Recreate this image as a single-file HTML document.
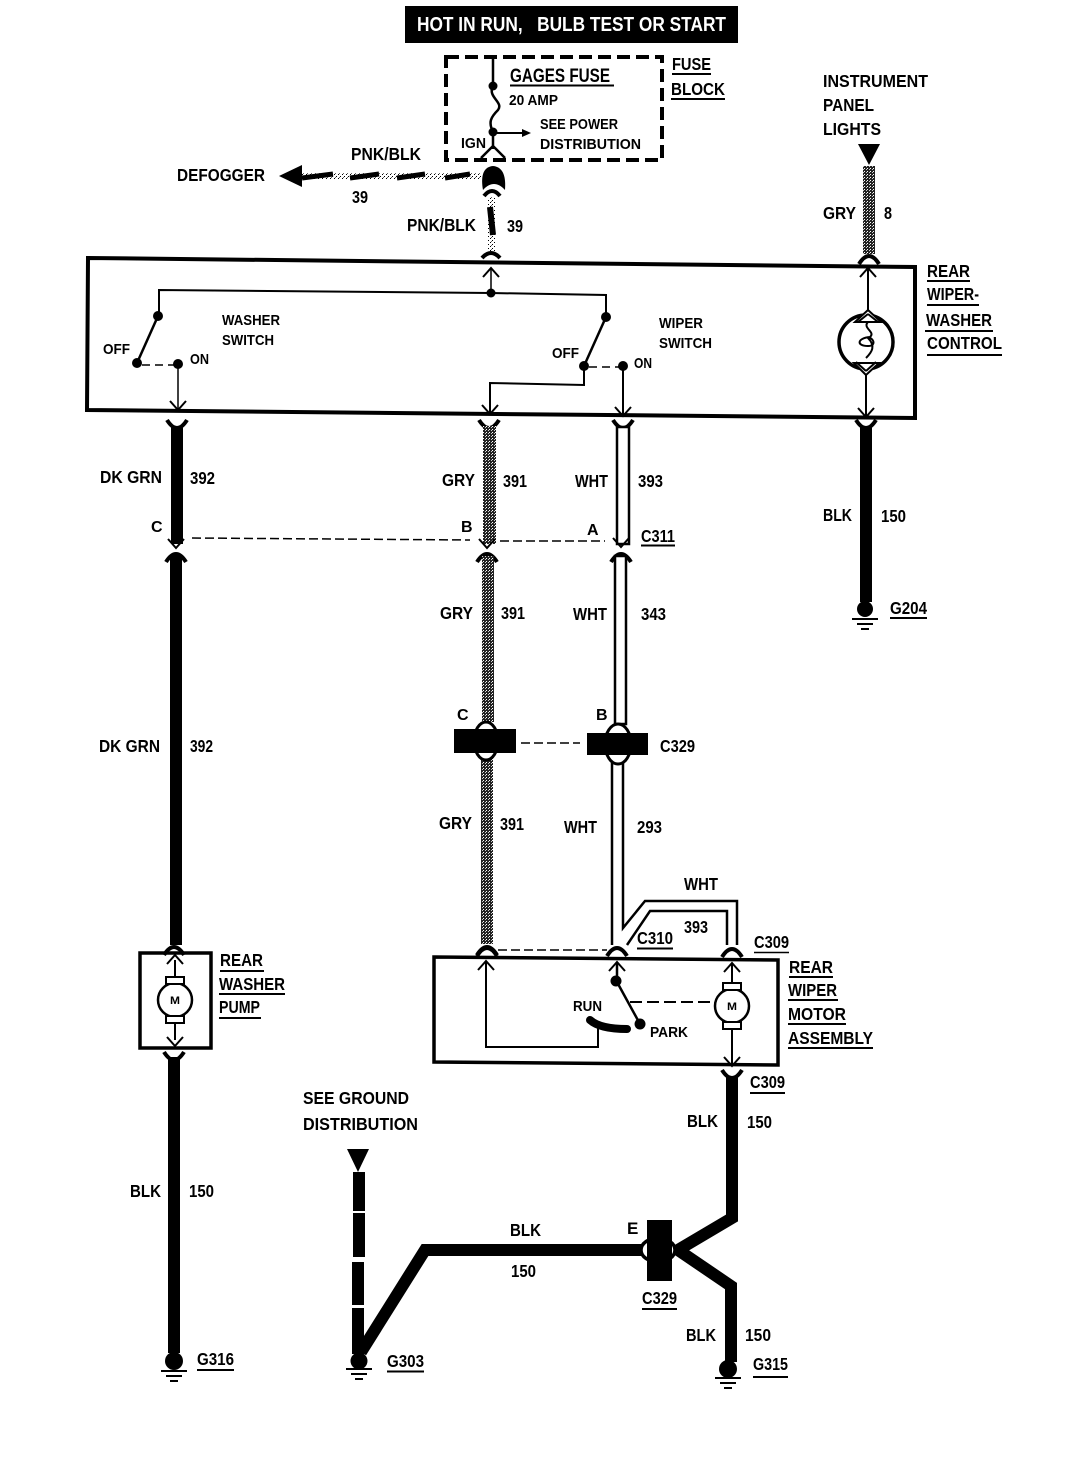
<!DOCTYPE html>
<html><head><meta charset="utf-8"><title>Rear wiper washer wiring diagram</title>
<style>
html,body{margin:0;padding:0;background:#fff;width:1068px;height:1472px;overflow:hidden}
svg{display:block}
text{font-family:"Liberation Sans",sans-serif;font-weight:700;font-size:17.5px;fill:#000}
.s{font-size:15px}
.m{font-size:11px}
</style></head><body>
<svg xmlns="http://www.w3.org/2000/svg" width="1068" height="1472" viewBox="0 0 1068 1472">
<defs>
<pattern id="g" width="3" height="3" patternUnits="userSpaceOnUse"><rect width="3" height="3" fill="#222"/><rect x="0" y="0" width="1" height="1" fill="#fff"/><rect x="2" y="1" width="1" height="1" fill="#ccc"/></pattern>
<pattern id="p" width="4" height="4" patternUnits="userSpaceOnUse"><rect width="4" height="4" fill="#fff"/><rect width="1" height="1" fill="#000"/><rect x="2" y="2" width="1" height="1" fill="#000"/><rect x="3" y="1" width="1" height="1" fill="#666"/></pattern>
<path id="cu" d="M-10,-6 Q-5,2 0,2 Q5,2 10,-6" fill="none" stroke="#000" stroke-width="4"/>
<path id="cd" d="M-10,6 Q-5,-2 0,-2 Q5,-2 10,6" fill="none" stroke="#000" stroke-width="4"/>
<path id="ad" d="M-8,-9 L0,0 L8,-9" fill="none" stroke="#000" stroke-width="2"/>
<path id="au" d="M-8,9 L0,0 L8,9" fill="none" stroke="#000" stroke-width="2"/>
<g id="gnd" stroke="#000" stroke-width="2"><path d="M-13,9H13M-8,14H8M-4,19H4"/></g>
<g id="mot"><circle r="17" fill="#fff" stroke="#000" stroke-width="2.500"/><rect x="-9" y="-23" width="18" height="7" fill="#fff" stroke="#000" stroke-width="2"/><rect x="-9" y="16" width="18" height="7" fill="#fff" stroke="#000" stroke-width="2"/></g>
</defs>
<rect width="1068" height="1472" fill="#fff"/>

<!-- header -->
<rect x="405" y="6" width="333" height="37" fill="#000"/>
<text x="417" y="31" textLength="309" lengthAdjust="spacingAndGlyphs" style="fill:#fff;font-size:20px;white-space:pre" xml:space="preserve">HOT IN RUN,   BULB TEST OR START</text>

<!-- fuse block -->
<rect x="446" y="57" width="216" height="103" fill="none" stroke="#000" stroke-width="4" stroke-dasharray="13 6"/>
<path d="M493,57V86 C487,97 504,102 498,110 C491,117 488,122 493,132V149 M481,158L493,146L505,158" fill="none" stroke="#000" stroke-width="2.500"/>
<circle cx="493" cy="86" r="4.500"/><circle cx="493" cy="132" r="4.500"/>
<path d="M493,133H522" stroke="#000" stroke-width="2"/><path d="M522,129L531,133L522,137Z"/>
<text x="510" y="82" textLength="100" lengthAdjust="spacingAndGlyphs" style="font-size:19px">GAGES FUSE</text>
<path d="M510,85.500H614" stroke="#000" stroke-width="2"/>
<text class="s" x="509" y="105" textLength="49" lengthAdjust="spacingAndGlyphs">20 AMP</text>
<text class="s" x="540" y="129" textLength="78" lengthAdjust="spacingAndGlyphs">SEE POWER</text>
<text class="s" x="540" y="149" textLength="101" lengthAdjust="spacingAndGlyphs">DISTRIBUTION</text>
<text class="s" x="461" y="148" textLength="25" lengthAdjust="spacingAndGlyphs">IGN</text>
<text x="672" y="70" textLength="39" lengthAdjust="spacingAndGlyphs">FUSE</text><path d="M672,74H711" stroke="#000" stroke-width="2"/>
<text x="671" y="95" textLength="54" lengthAdjust="spacingAndGlyphs">BLOCK</text><path d="M671,99H725" stroke="#000" stroke-width="2"/>

<!-- defogger wire -->
<path d="M279,176L302,165V187Z"/>
<rect x="302" y="173" width="180" height="7" fill="url(#p)"/>
<path d="M302,178L333,174M350,178L379,174M397,178L425,174M445,178L470,174" stroke="#000" stroke-width="5"/>
<path d="M483,190C481,178 482,167 493,166C504,167 506,178 505,190C498,182 490,182 483,190Z"/>
<path d="M484,196Q492,186 500,196" fill="none" stroke="#000" stroke-width="4"/>
<rect x="488" y="197" width="7" height="54" fill="url(#p)"/>
<path d="M490,207L493,235" stroke="#000" stroke-width="6"/>
<path d="M482,258Q491,248 500,258" fill="none" stroke="#000" stroke-width="4"/>
<text x="351" y="160" textLength="70" lengthAdjust="spacingAndGlyphs">PNK/BLK</text>
<text x="352" y="203" textLength="16" lengthAdjust="spacingAndGlyphs">39</text>
<text x="177" y="181" textLength="88" lengthAdjust="spacingAndGlyphs">DEFOGGER</text>
<text x="407" y="231" textLength="69" lengthAdjust="spacingAndGlyphs">PNK/BLK</text>
<text x="507" y="232" textLength="16" lengthAdjust="spacingAndGlyphs">39</text>

<!-- instrument -->
<text x="823" y="87" textLength="105" lengthAdjust="spacingAndGlyphs">INSTRUMENT</text>
<text x="823" y="111" textLength="51" lengthAdjust="spacingAndGlyphs">PANEL</text>
<text x="823" y="135" textLength="58" lengthAdjust="spacingAndGlyphs">LIGHTS</text>
<path d="M858,144H880L869,165Z"/>
<rect x="863" y="166" width="12" height="88" fill="url(#g)"/>
<use href="#cd" x="869" y="258"/>
<text x="823" y="219" textLength="33" lengthAdjust="spacingAndGlyphs">GRY</text>
<text x="884" y="219" textLength="8" lengthAdjust="spacingAndGlyphs">8</text>

<!-- control box -->
<path d="M88,258L915,267V418L87,410Z" fill="none" stroke="#000" stroke-width="4"/>
<text x="927" y="277" textLength="43" lengthAdjust="spacingAndGlyphs">REAR</text><path d="M927,281H970" stroke="#000" stroke-width="2"/>
<text x="927" y="300" textLength="52" lengthAdjust="spacingAndGlyphs">WIPER-</text><path d="M927,305H979" stroke="#000" stroke-width="2"/>
<text x="926" y="326" textLength="66" lengthAdjust="spacingAndGlyphs">WASHER</text><path d="M925,331H993" stroke="#000" stroke-width="2"/>
<text x="927" y="349" textLength="75" lengthAdjust="spacingAndGlyphs">CONTROL</text><path d="M927,355H1002" stroke="#000" stroke-width="2"/>

<!-- bulb -->
<path d="M868,268V310M866,375V418" stroke="#000" stroke-width="2"/>
<use href="#au" x="868" y="268"/><use href="#ad" x="866" y="417"/>
<circle cx="866" cy="342" r="27" fill="#fff" stroke="#000" stroke-width="3.500"/>
<path d="M868,310L855,322H881ZM866,375L854,363H879Z" fill="#fff" stroke="#000" stroke-width="2"/>
<path d="M868,314L858,322M868,314L878,322M866,371L856,362M866,371L876,362" stroke="#000" stroke-width="2"/>
<path d="M868,322C862,328 876,332 870,337C857,338 856,346 868,346C878,346 872,336 868,338C876,346 872,352 866,358" fill="none" stroke="#000" stroke-width="2"/>

<!-- switches -->
<use href="#au" x="491" y="268"/>
<path d="M491,268V293" stroke="#000" stroke-width="1.500"/>
<circle cx="491" cy="293" r="4.500"/>
<path d="M159,317V290L491,293L606,295V317" fill="none" stroke="#000" stroke-width="2"/>
<circle cx="158" cy="316" r="5"/><circle cx="137" cy="363" r="5"/><circle cx="178" cy="364" r="5"/>
<path d="M158,316L137,363" stroke="#000" stroke-width="2.500"/>
<path d="M142,365H174" stroke="#000" stroke-width="1.500" stroke-dasharray="8 5"/>
<path d="M178,364V409" stroke="#000" stroke-width="1.500"/><use href="#ad" x="178" y="410"/>
<circle cx="606" cy="317" r="5"/><circle cx="584" cy="366" r="5"/><circle cx="623" cy="366" r="5"/>
<path d="M606,317L584,366" stroke="#000" stroke-width="2.500"/>
<path d="M589,367H620" stroke="#000" stroke-width="1.500" stroke-dasharray="8 5"/>
<path d="M584,366V385L490,383V413" fill="none" stroke="#000" stroke-width="2"/><use href="#ad" x="490" y="414"/>
<path d="M623,366V414" stroke="#000" stroke-width="2"/><use href="#ad" x="623" y="416"/>
<text class="s" x="103" y="354" textLength="27" lengthAdjust="spacingAndGlyphs">OFF</text>
<text class="s" x="190" y="364" textLength="19" lengthAdjust="spacingAndGlyphs">ON</text>
<text class="s" x="222" y="325" textLength="58" lengthAdjust="spacingAndGlyphs">WASHER</text>
<text class="s" x="222" y="345" textLength="52" lengthAdjust="spacingAndGlyphs">SWITCH</text>
<text class="s" x="552" y="358" textLength="27" lengthAdjust="spacingAndGlyphs">OFF</text>
<text class="s" x="634" y="368" textLength="18" lengthAdjust="spacingAndGlyphs">ON</text>
<text class="s" x="659" y="328" textLength="44" lengthAdjust="spacingAndGlyphs">WIPER</text>
<text class="s" x="659" y="348" textLength="53" lengthAdjust="spacingAndGlyphs">SWITCH</text>

<!-- dk grn -->
<use href="#cu" x="177" y="426"/>
<rect x="171" y="426" width="12" height="118"/>
<use href="#ad" x="176" y="548"/>
<use href="#cd" x="176" y="556"/>
<rect x="170" y="555" width="12" height="390"/>
<use href="#cd" x="174" y="949"/>
<text x="100" y="483" textLength="62" lengthAdjust="spacingAndGlyphs">DK GRN</text>
<text x="190" y="484" textLength="25" lengthAdjust="spacingAndGlyphs">392</text>
<text x="151" y="532" style="font-size:16px">C</text>
<text x="99" y="752" textLength="61" lengthAdjust="spacingAndGlyphs">DK GRN</text>
<text x="190" y="752" textLength="23" lengthAdjust="spacingAndGlyphs">392</text>

<!-- gray -->
<use href="#cu" x="489" y="426"/>
<rect x="483" y="426" width="13" height="118" fill="url(#g)"/>
<use href="#ad" x="487" y="548"/>
<use href="#cd" x="487" y="556"/>
<rect x="482" y="556" width="12" height="166" fill="url(#g)"/>
<rect x="481" y="757" width="12" height="187" fill="url(#g)"/>
<use href="#cd" x="487" y="949"/>
<text x="442" y="486" textLength="33" lengthAdjust="spacingAndGlyphs">GRY</text>
<text x="503" y="487" textLength="24" lengthAdjust="spacingAndGlyphs">391</text>
<text x="461" y="532" style="font-size:16px">B</text>
<text x="440" y="619" textLength="33" lengthAdjust="spacingAndGlyphs">GRY</text>
<text x="501" y="619" textLength="24" lengthAdjust="spacingAndGlyphs">391</text>
<text x="439" y="829" textLength="33" lengthAdjust="spacingAndGlyphs">GRY</text>
<text x="500" y="830" textLength="24" lengthAdjust="spacingAndGlyphs">391</text>

<!-- white -->
<use href="#cu" x="623" y="426"/>
<rect x="617" y="427" width="12" height="117" fill="#fff" stroke="#000" stroke-width="2.500"/>
<use href="#ad" x="621" y="547"/>
<use href="#cd" x="621" y="556"/>
<rect x="615" y="556" width="11" height="168" fill="#fff" stroke="#000" stroke-width="2.500"/>
<path d="M612,762V945M623,762V928L645,901H737V945M627,945L650,911H727V945" fill="none" stroke="#000" stroke-width="2.500"/>
<text x="575" y="487" textLength="33" lengthAdjust="spacingAndGlyphs">WHT</text>
<text x="638" y="487" textLength="25" lengthAdjust="spacingAndGlyphs">393</text>
<text x="587" y="535" style="font-size:16px">A</text>
<text x="641" y="542" textLength="34" lengthAdjust="spacingAndGlyphs">C311</text><path d="M641,545.500H675" stroke="#000" stroke-width="2"/>
<text x="573" y="620" textLength="34" lengthAdjust="spacingAndGlyphs">WHT</text>
<text x="641" y="620" textLength="25" lengthAdjust="spacingAndGlyphs">343</text>
<text x="564" y="833" textLength="33" lengthAdjust="spacingAndGlyphs">WHT</text>
<text x="637" y="833" textLength="25" lengthAdjust="spacingAndGlyphs">293</text>
<text x="684" y="890" textLength="34" lengthAdjust="spacingAndGlyphs">WHT</text>
<text x="684" y="933" textLength="24" lengthAdjust="spacingAndGlyphs">393</text>

<!-- C311 dashed -->
<path d="M192,538L470,540" stroke="#000" stroke-width="1.500" stroke-dasharray="9 4"/>
<path d="M500,541L605,541" stroke="#000" stroke-width="1.500" stroke-dasharray="9 4"/>

<!-- C329 upper -->
<ellipse cx="486" cy="741" rx="12" ry="19" fill="#fff" stroke="#000" stroke-width="3"/>
<ellipse cx="618" cy="744" rx="13" ry="20" fill="#fff" stroke="#000" stroke-width="3"/>
<rect x="454" y="729" width="62" height="24"/>
<rect x="587" y="733" width="61" height="22"/>
<path d="M521,743H580" stroke="#000" stroke-width="1.500" stroke-dasharray="9 4"/>
<text x="457" y="720" style="font-size:16px">C</text>
<text x="596" y="720" style="font-size:16px">B</text>
<text x="660" y="752" textLength="35" lengthAdjust="spacingAndGlyphs">C329</text>

<!-- right black wire -->
<use href="#cu" x="866" y="426"/>
<rect x="860" y="426" width="12" height="176"/>
<circle cx="865" cy="609" r="8"/><use href="#gnd" x="865" y="610"/>
<text x="823" y="521" textLength="29" lengthAdjust="spacingAndGlyphs">BLK</text>
<text x="881" y="522" textLength="25" lengthAdjust="spacingAndGlyphs">150</text>
<text x="890" y="614" textLength="37" lengthAdjust="spacingAndGlyphs">G204</text><path d="M890,618H927" stroke="#000" stroke-width="2"/>

<!-- pump -->
<rect x="140" y="953" width="71" height="95" fill="none" stroke="#000" stroke-width="3.500"/>
<path d="M175,960V1040" stroke="#000" stroke-width="2"/>
<use href="#au" x="175" y="955"/><use href="#ad" x="175" y="1046"/>
<use href="#mot" x="175" y="1000"/>
<text class="m" x="170" y="1004" textLength="10" lengthAdjust="spacingAndGlyphs">M</text>
<use href="#cu" x="174" y="1058"/>
<rect x="168" y="1057" width="12" height="296"/>
<circle cx="174" cy="1361" r="9"/><use href="#gnd" x="174" y="1362"/>
<text x="220" y="966" textLength="43" lengthAdjust="spacingAndGlyphs">REAR</text><path d="M220,971H264" stroke="#000" stroke-width="2"/>
<text x="219" y="990" textLength="66" lengthAdjust="spacingAndGlyphs">WASHER</text><path d="M219,994H285" stroke="#000" stroke-width="2"/>
<text x="219" y="1013" textLength="41" lengthAdjust="spacingAndGlyphs">PUMP</text><path d="M219,1018H261" stroke="#000" stroke-width="2"/>
<text x="130" y="1197" textLength="31" lengthAdjust="spacingAndGlyphs">BLK</text>
<text x="189" y="1197" textLength="25" lengthAdjust="spacingAndGlyphs">150</text>
<text x="197" y="1365" textLength="37" lengthAdjust="spacingAndGlyphs">G316</text><path d="M197,1370H234" stroke="#000" stroke-width="2"/>

<!-- motor box -->
<path d="M434,957L778,960V1065L434,1062Z" fill="none" stroke="#000" stroke-width="3.500"/>
<use href="#cd" x="487" y="950"/><use href="#cd" x="617" y="950"/><use href="#cd" x="732" y="951"/>
<path d="M498,950H607" stroke="#000" stroke-width="1.500" stroke-dasharray="9 4"/>
<use href="#au" x="486" y="961"/><use href="#au" x="617" y="962"/><use href="#au" x="732" y="963"/>
<path d="M486,961V1047H598V1027" fill="none" stroke="#000" stroke-width="2"/>
<path d="M590,1020Q600,1029 627,1029" fill="none" stroke="#000" stroke-width="8" stroke-linecap="round"/>
<path d="M617,962V982L640,1024" fill="none" stroke="#000" stroke-width="2.500"/>
<circle cx="616" cy="981" r="5.500"/><circle cx="640" cy="1024" r="5.500"/>
<path d="M630,1002H715" stroke="#000" stroke-width="2" stroke-dasharray="12 5"/>
<path d="M732,963V985M732,1030V1064" stroke="#000" stroke-width="2"/>
<use href="#mot" x="732" y="1006"/>
<use href="#ad" x="732" y="1066"/>
<text class="m" x="727" y="1010" textLength="10" lengthAdjust="spacingAndGlyphs">M</text>
<text class="s" x="573" y="1011" textLength="29" lengthAdjust="spacingAndGlyphs">RUN</text>
<text class="s" x="650" y="1037" textLength="38" lengthAdjust="spacingAndGlyphs">PARK</text>
<text x="637" y="944" textLength="36" lengthAdjust="spacingAndGlyphs">C310</text><path d="M637,948.500H673" stroke="#000" stroke-width="2"/>
<text x="754" y="948" textLength="35" lengthAdjust="spacingAndGlyphs">C309</text><path d="M754,952.500H789" stroke="#000" stroke-width="1.500"/>
<text x="789" y="973" textLength="44" lengthAdjust="spacingAndGlyphs">REAR</text><path d="M789,977H833" stroke="#000" stroke-width="2"/>
<text x="788" y="996" textLength="49" lengthAdjust="spacingAndGlyphs">WIPER</text><path d="M788,1000H838" stroke="#000" stroke-width="2"/>
<text x="788" y="1020" textLength="58" lengthAdjust="spacingAndGlyphs">MOTOR</text><path d="M788,1024H846" stroke="#000" stroke-width="2"/>
<text x="788" y="1044" textLength="85" lengthAdjust="spacingAndGlyphs">ASSEMBLY</text><path d="M788,1048H873" stroke="#000" stroke-width="2"/>

<!-- bottom black wires -->
<path d="M732,1076V1218L678,1250L731,1286V1362" fill="none" stroke="#000" stroke-width="12" stroke-linejoin="miter"/>
<use href="#cu" x="732" y="1076"/>
<text x="750" y="1088" textLength="35" lengthAdjust="spacingAndGlyphs">C309</text><path d="M750,1093H785" stroke="#000" stroke-width="2"/>
<text x="687" y="1127" textLength="31" lengthAdjust="spacingAndGlyphs">BLK</text>
<text x="747" y="1128" textLength="25" lengthAdjust="spacingAndGlyphs">150</text>
<circle cx="728" cy="1369" r="9"/><use href="#gnd" x="728" y="1369"/>
<text x="686" y="1341" textLength="30" lengthAdjust="spacingAndGlyphs">BLK</text>
<text x="745" y="1341" textLength="26" lengthAdjust="spacingAndGlyphs">150</text>
<text x="753" y="1370" textLength="35" lengthAdjust="spacingAndGlyphs">G315</text><path d="M753,1377H788" stroke="#000" stroke-width="2"/>

<path d="M642,1250H425L361,1352" fill="none" stroke="#000" stroke-width="12"/>
<ellipse cx="658" cy="1250" rx="17" ry="12" fill="#fff" stroke="#000" stroke-width="3.500"/>
<rect x="647" y="1220" width="25" height="61"/>
<text x="627" y="1234" style="font-size:17px">E</text>
<text x="510" y="1236" textLength="31" lengthAdjust="spacingAndGlyphs">BLK</text>
<text x="511" y="1277" textLength="25" lengthAdjust="spacingAndGlyphs">150</text>
<text x="642" y="1304" textLength="35" lengthAdjust="spacingAndGlyphs">C329</text><path d="M642,1309H677" stroke="#000" stroke-width="2"/>

<path d="M347,1149H369L358,1172Z"/>
<rect x="353" y="1172" width="12" height="39"/>
<rect x="353" y="1213" width="12" height="44"/>
<rect x="352" y="1262" width="12" height="43"/>
<rect x="352" y="1308" width="12" height="46"/>
<circle cx="359" cy="1361" r="8.500"/><use href="#gnd" x="359" y="1360"/>
<text x="303" y="1104" textLength="106" lengthAdjust="spacingAndGlyphs">SEE GROUND</text>
<text x="303" y="1130" textLength="115" lengthAdjust="spacingAndGlyphs">DISTRIBUTION</text>
<text x="387" y="1367" textLength="37" lengthAdjust="spacingAndGlyphs">G303</text><path d="M387,1371.500H424" stroke="#000" stroke-width="2"/>
</svg>
</body></html>
